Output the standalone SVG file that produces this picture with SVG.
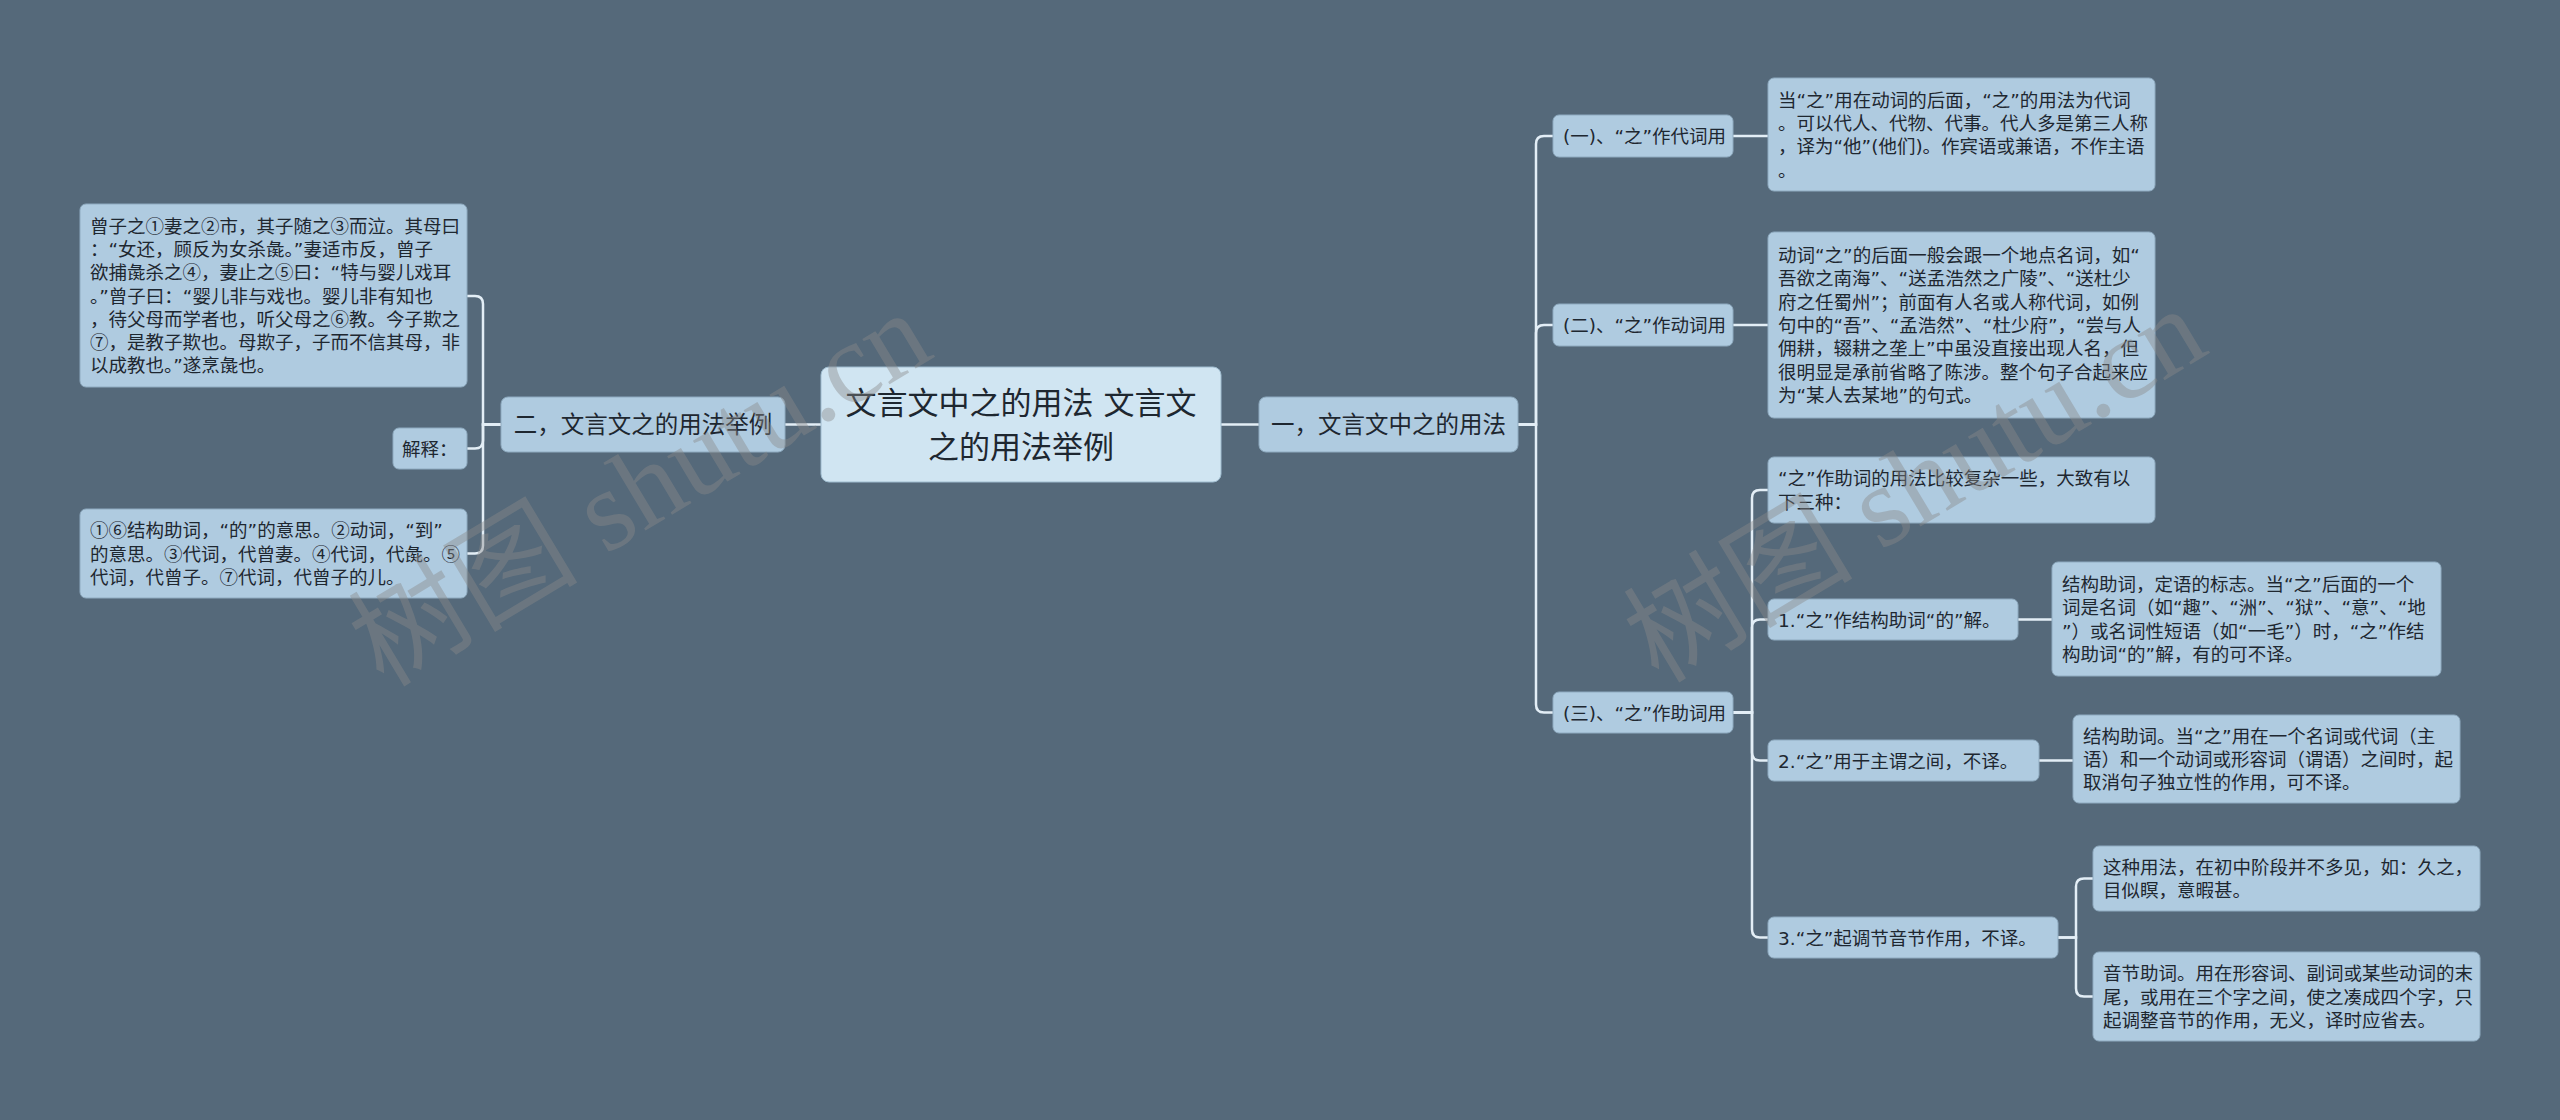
<svg xmlns="http://www.w3.org/2000/svg" width="2560" height="1120" viewBox="0 0 2560 1120">
<style>
.n{fill:#afcbe0;stroke:#8fabc0;stroke-width:1}
.c{fill:#d0e5f2;stroke:#9fbccf;stroke-width:1}
text{font-family:"DejaVu Sans","Noto Sans CJK SC",sans-serif;fill:#1e2730}
.k{font-family:"Noto Sans CJK SC",sans-serif}
.t{font-size:18.5px}
.l1{font-size:23.5px;text-anchor:middle}
.ct{font-size:31px;text-anchor:middle}
.e{fill:none;stroke:#e3eef6;stroke-width:2.5;stroke-linecap:round}
.wm{font-family:"Liberation Serif","Noto Sans CJK SC",serif;font-size:115px;fill:#8a8a8a;opacity:0.42;text-anchor:middle}
</style>
<rect width="2560" height="1120" fill="#55697a"/>
<g id="connectors">
<path class="e" d="M501,424.5 H483 V304 Q483,296 475,296 H467"/>
<path class="e" d="M501,424.5 H483 V440.5 Q483,448.5 475,448.5 H467"/>
<path class="e" d="M501,424.5 H483 V545.5 Q483,553.5 475,553.5 H467"/>
<path class="e" d="M785,424.5 H821"/>
<path class="e" d="M1221,424.5 H1259"/>
<path class="e" d="M1518,424.5 H1536 V144 Q1536,136 1544,136 H1553"/>
<path class="e" d="M1518,424.5 H1536 V333 Q1536,325 1544,325 H1553"/>
<path class="e" d="M1518,424.5 H1536 V704.5 Q1536,712.5 1544,712.5 H1553"/>
<path class="e" d="M1733,136 H1768"/>
<path class="e" d="M1733,325 H1768"/>
<path class="e" d="M1733,712.5 H1752 V498 Q1752,490 1760,490 H1768"/>
<path class="e" d="M1733,712.5 H1752 V627.5 Q1752,619.5 1760,619.5 H1768"/>
<path class="e" d="M1733,712.5 H1752 V752.5 Q1752,760.5 1760,760.5 H1768"/>
<path class="e" d="M1733,712.5 H1752 V929.5 Q1752,937.5 1760,937.5 H1768"/>
<path class="e" d="M2018,619.5 H2052"/>
<path class="e" d="M2039,760.5 H2073"/>
<path class="e" d="M2058,937.5 H2076 V886.5 Q2076,878.5 2084,878.5 H2093"/>
<path class="e" d="M2058,937.5 H2076 V988.5 Q2076,996.5 2084,996.5 H2093"/>
</g>
<g id="center">
<rect class="c" x="821" y="367" width="400" height="115" rx="8"/>
<text class="ct" x="1021" y="414">文言文中之的用法 文言文</text>
<text class="ct" x="1021" y="458">之的用法举例</text>
</g>
<g id="b2">
<rect class="n" x="501" y="397" width="284" height="55" rx="7"/>
<text class="l1" x="643" y="433">二，文言文之的用法举例</text>
</g>
<g id="b2-story">
<rect class="n" x="80" y="204" width="387" height="183" rx="6"/>
<text class="t" x="90">
<tspan x="90" y="232.6">曾子之<tspan class="k">①</tspan>妻之<tspan class="k">②</tspan>市，其子随之<tspan class="k">③</tspan>而泣。其母曰</tspan>
<tspan x="90" y="255.9">：“女还，顾反为女杀彘。”妻适市反，曾子</tspan>
<tspan x="90" y="279.2">欲捕彘杀之<tspan class="k">④</tspan>，妻止之<tspan class="k">⑤</tspan>曰：“特与婴儿戏耳</tspan>
<tspan x="90" y="302.5">。”曾子曰：“婴儿非与戏也。婴儿非有知也</tspan>
<tspan x="90" y="325.8">，待父母而学者也，听父母之<tspan class="k">⑥</tspan>教。今子欺之</tspan>
<tspan x="90" y="349.1"><tspan class="k">⑦</tspan>，是教子欺也。母欺子，子而不信其母，非</tspan>
<tspan x="90" y="372.4">以成教也。”遂烹彘也。</tspan>
</text>
</g>
<g id="b2-jieshi">
<rect class="n" x="393" y="428" width="74" height="41" rx="6"/>
<text class="t" x="402" y="455.5">解释：</text>
</g>
<g id="b2-notes">
<rect class="n" x="80" y="509" width="387" height="89" rx="6"/>
<text class="t">
<tspan x="90" y="537.2"><tspan class="k">①⑥</tspan>结构助词，“的”的意思。<tspan class="k">②</tspan>动词，“到”</tspan>
<tspan x="90" y="560.5">的意思。<tspan class="k">③</tspan>代词，代曾妻。<tspan class="k">④</tspan>代词，代彘。<tspan class="k">⑤</tspan></tspan>
<tspan x="90" y="583.8">代词，代曾子。<tspan class="k">⑦</tspan>代词，代曾子的儿。</tspan>
</text>
</g>
<g id="b1">
<rect class="n" x="1259" y="397" width="259" height="55" rx="7"/>
<text class="l1" x="1388.5" y="433">一，文言文中之的用法</text>
</g>
<g id="b1-1">
<rect class="n" x="1553" y="115" width="180" height="42" rx="6"/>
<text class="t" x="1563" y="143">(一)、“之”作代词用</text>
</g>
<g id="b1-1-d">
<rect class="n" x="1768" y="78" width="387" height="113" rx="6"/>
<text class="t">
<tspan x="1778" y="106.6">当“之”用在动词的后面，“之”的用法为代词</tspan>
<tspan x="1778" y="129.9">。可以代人、代物、代事。代人多是第三人称</tspan>
<tspan x="1778" y="153.2">，译为“他”(他们)。作宾语或兼语，不作主语</tspan>
<tspan x="1778" y="176.5">。</tspan>
</text>
</g>
<g id="b1-2">
<rect class="n" x="1553" y="304" width="180" height="42" rx="6"/>
<text class="t" x="1563" y="332">(二)、“之”作动词用</text>
</g>
<g id="b1-2-d">
<rect class="n" x="1768" y="232" width="387" height="186" rx="6"/>
<text class="t">
<tspan x="1778" y="262.1">动词“之”的后面一般会跟一个地点名词，如“</tspan>
<tspan x="1778" y="285.4">吾欲之南海”、“送孟浩然之广陵”、“送杜少</tspan>
<tspan x="1778" y="308.7">府之任蜀州”；前面有人名或人称代词，如例</tspan>
<tspan x="1778" y="332">句中的“吾”、“孟浩然”、“杜少府”，“尝与人</tspan>
<tspan x="1778" y="355.3">佣耕，辍耕之垄上”中虽没直接出现人名，但</tspan>
<tspan x="1778" y="378.6">很明显是承前省略了陈涉。整个句子合起来应</tspan>
<tspan x="1778" y="401.9">为“某人去某地”的句式。</tspan>
</text>
</g>
<g id="b1-3">
<rect class="n" x="1553" y="692" width="180" height="41" rx="6"/>
<text class="t" x="1563" y="719.5">(三)、“之”作助词用</text>
</g>
<g id="b1-3-intro">
<rect class="n" x="1768" y="457" width="387" height="66" rx="6"/>
<text class="t">
<tspan x="1778" y="485.4">“之”作助词的用法比较复杂一些，大致有以</tspan>
<tspan x="1778" y="508.7">下三种：</tspan>
</text>
</g>
<g id="b1-3-1">
<rect class="n" x="1768" y="599" width="250" height="41" rx="6"/>
<text class="t" x="1778" y="626.5">1.“之”作结构助词“的”解。</text>
</g>
<g id="b1-3-1-d">
<rect class="n" x="2052" y="562" width="389" height="114" rx="6"/>
<text class="t">
<tspan x="2062" y="591">结构助词，定语的标志。当“之”后面的一个</tspan>
<tspan x="2062" y="614.3">词是名词（如“趣”、“洲”、“狱”、“意”、“地</tspan>
<tspan x="2062" y="637.6">”）或名词性短语（如“一毛”）时，“之”作结</tspan>
<tspan x="2062" y="660.9">构助词“的”解，有的可不译。</tspan>
</text>
</g>
<g id="b1-3-2">
<rect class="n" x="1768" y="740" width="271" height="41" rx="6"/>
<text class="t" x="1778" y="767.5">2.“之”用于主谓之间，不译。</text>
</g>
<g id="b1-3-2-d">
<rect class="n" x="2073" y="715" width="387" height="88" rx="6"/>
<text class="t">
<tspan x="2083" y="742.7">结构助词。当“之”用在一个名词或代词（主</tspan>
<tspan x="2083" y="766">语）和一个动词或形容词（谓语）之间时，起</tspan>
<tspan x="2083" y="789.3">取消句子独立性的作用，可不译。</tspan>
</text>
</g>
<g id="b1-3-3">
<rect class="n" x="1768" y="917" width="290" height="41" rx="6"/>
<text class="t" x="1778" y="944.5">3.“之”起调节音节作用，不译。</text>
</g>
<g id="b1-3-3-a">
<rect class="n" x="2093" y="846" width="387" height="65" rx="6"/>
<text class="t">
<tspan x="2103" y="873.9">这种用法，在初中阶段并不多见，如：久之，</tspan>
<tspan x="2103" y="897.2">目似瞑，意暇甚。</tspan>
</text>
</g>
<g id="b1-3-3-b">
<rect class="n" x="2093" y="952" width="387" height="89" rx="6"/>
<text class="t">
<tspan x="2103" y="980.2">音节助词。用在形容词、副词或某些动词的末</tspan>
<tspan x="2103" y="1003.5">尾，或用在三个字之间，使之凑成四个字，只</tspan>
<tspan x="2103" y="1026.8">起调整音节的作用，无义，译时应省去。</tspan>
</text>
</g>
<g id="watermark">
<text class="wm" transform="translate(660,522) rotate(-31)">树图 shutu.cn</text>
<text class="wm" transform="translate(1935,518) rotate(-31)">树图 shutu.cn</text>
</g>
</svg>
